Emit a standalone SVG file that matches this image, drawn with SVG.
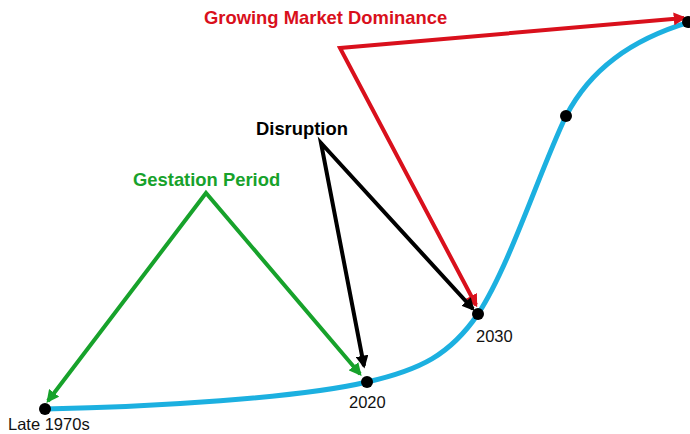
<svg xmlns="http://www.w3.org/2000/svg" width="690" height="434" viewBox="0 0 690 434">
<style>
.lbl{font-family:"Liberation Sans",Arial,sans-serif;font-weight:bold;font-size:18.4px}
.yr{font-family:"Liberation Sans",Arial,sans-serif;font-size:16.5px;fill:#111}
.arr{fill:none;stroke-width:4;stroke-linejoin:miter}
.dot{fill:#000}
</style>
<defs>
<marker id="mr" viewBox="0 0 10 10" refX="8" refY="5" markerWidth="3.2" markerHeight="3.2" orient="auto-start-reverse" markerUnits="strokeWidth"><path d="M0,0 L10,5 L0,10 z" fill="#d9101c"/></marker>
<marker id="mk" viewBox="0 0 10 10" refX="8" refY="5" markerWidth="3.2" markerHeight="3.2" orient="auto-start-reverse" markerUnits="strokeWidth"><path d="M0,0 L10,5 L0,10 z" fill="#000"/></marker>
<marker id="mg" viewBox="0 0 10 10" refX="8" refY="5" markerWidth="3.2" markerHeight="3.2" orient="auto-start-reverse" markerUnits="strokeWidth"><path d="M0,0 L10,5 L0,10 z" fill="#17a22b"/></marker>
</defs>
<rect width="690" height="434" fill="#fff"/>
<g id="curve">
<path d="M45,409 C150,407 300,398 367,382 C420,370 450,355 478,314 C510,265 540,170 566,116 C590,70 630,40 690,22" fill="none" stroke="#1cb0e0" stroke-width="5"/>
</g>
<g id="connectors">
<polyline class="arr" points="476,305 340,48 684,18" stroke="#d9101c" marker-start="url(#mr)" marker-end="url(#mr)"/>
<polyline class="arr" points="473,309 321,143 364,366" stroke="#000" marker-start="url(#mk)" marker-end="url(#mk)"/>
<polyline class="arr" points="48,401 206,193 360,374" stroke="#17a22b" marker-start="url(#mg)" marker-end="url(#mg)"/>
</g>
<g id="n-late1970s"><circle class="dot" cx="45" cy="409" r="6"/><text class="yr" x="8" y="430">Late 1970s</text></g>
<g id="n-2020"><circle class="dot" cx="367" cy="382" r="6"/><text class="yr" x="349" y="408">2020</text></g>
<g id="n-2030"><circle class="dot" cx="478" cy="314" r="6"/><text class="yr" x="476" y="342">2030</text></g>
<g id="n-mid"><circle class="dot" cx="566" cy="116" r="6"/></g>
<g id="n-top"><circle class="dot" cx="688" cy="22" r="6"/></g>
<g id="l-gmd"><text class="lbl" x="204" y="24" fill="#d9101c">Growing Market Dominance</text></g>
<g id="l-disruption"><text class="lbl" x="256" y="135" fill="#000">Disruption</text></g>
<g id="l-gestation"><text class="lbl" x="133" y="186" fill="#17a22b">Gestation Period</text></g>
</svg>
